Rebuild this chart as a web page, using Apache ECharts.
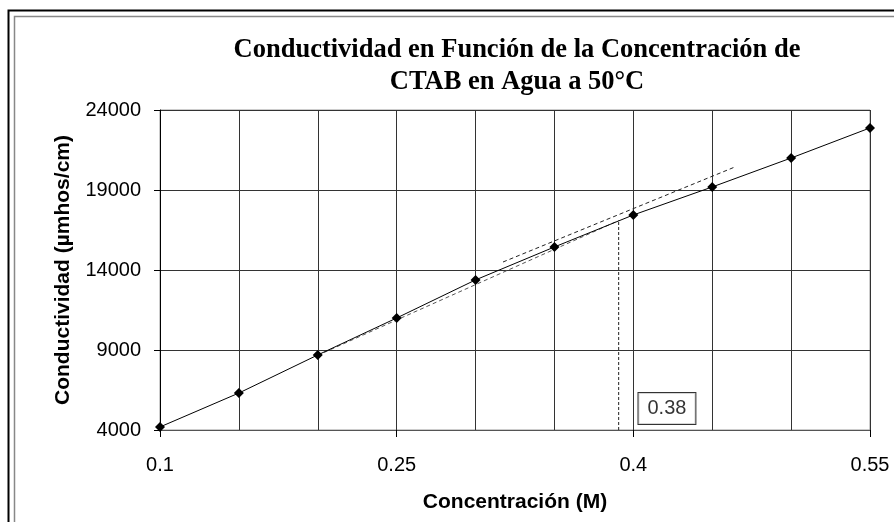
<!DOCTYPE html>
<html>
<head>
<meta charset="utf-8">
<script src="https://cdn.jsdelivr.net/npm/echarts@6/dist/echarts.min.js"></script>
<style>
html,body{margin:0;padding:0;background:#fff;}
#c{width:894px;height:522px;}
</style>
</head>
<body>
<div id="c"></div>
<script>
// Data
var concentration = [0.10, 0.15, 0.20, 0.25, 0.30, 0.35, 0.40, 0.45, 0.50, 0.55];
var conductivity  = [4190, 6310, 8690, 11000, 13380, 15440, 17440, 19190, 21000, 22880];

// Dashed trend lines (endpoints)
var lowerTrendX = [0.20, 0.3907];
var lowerTrendY = [8670, 17090];
var upperTrendX = [0.3174, 0.4644];
var upperTrendY = [14500, 20440];

// Vertical marker of the intersection
var cmcX = [0.3907, 0.3907];
var cmcY = [4000, 17050];
var cmcLabel = '0.38';
var cmcLabelPos = [0.4213, 5344];

var xTicks = [0.1, 0.25, 0.4, 0.55];
var yTicks = [4000, 9000, 14000, 19000, 24000];

function zip(a, b){ return a.map(function(v,i){ return [v, b[i]]; }); }

var chart = echarts.init(document.getElementById('c'), null, {renderer:'canvas'});
chart.setOption({
  animation: false,
  backgroundColor: '#fff',
  title: {
    text: 'Conductividad en Función de la Concentración de\nCTAB en Agua a 50°C',
    left: 512, top: 29, textAlign: 'center',
    textStyle: {fontFamily: 'Liberation Serif', fontWeight: 'bold', fontSize: 26.5, lineHeight: 32, color: '#000'}
  },
  graphic: [
    {type:'rect', shape:{x:8.5, y:10.5, width:900, height:530}, style:{fill:'none', stroke:'#000', lineWidth:2}, silent:true},
    {type:'rect', shape:{x:14.5, y:16.5, width:900, height:530}, style:{fill:'none', stroke:'#888', lineWidth:1.5}, silent:true}
  ],
  grid: {left:160, right:24, top:110, bottom:92, show:true, borderColor:'#999', borderWidth:1},
  xAxis: {
    type:'value', min: xTicks[0], max: xTicks[xTicks.length-1], interval: 0.15,
    name: 'Concentración (M)', nameLocation:'middle', nameGap: 62,
    nameTextStyle: {fontFamily:'Liberation Sans', fontWeight:'bold', fontSize:21, color:'#000'},
    axisLine: {show:true, lineStyle:{color:'#555', width:1}},
    axisTick: {show:true, inside:false, length:7, lineStyle:{color:'#000'}},
    axisLabel: {fontFamily:'Liberation Sans', fontSize:20, color:'#000', margin:25,
      formatter: function(v){ return String(Math.round(v*100)/100); }},
    splitLine: {show:true, lineStyle:{color:'#333', width:1}},
    minorTick: {show:false, splitNumber:3},
    minorSplitLine: {show:true, lineStyle:{color:'#333', width:1}}
  },
  yAxis: {
    type:'value', min: yTicks[0], max: yTicks[yTicks.length-1], interval: 5000,
    name: 'Conductividad (µmhos/cm)', nameLocation:'middle', nameGap: 86, nameRotate: 90,
    nameTextStyle: {fontFamily:'Liberation Sans', fontWeight:'bold', fontSize:21, color:'#000'},
    axisLine: {show:true, lineStyle:{color:'#000', width:1}},
    axisTick: {show:true, inside:false, length:6, lineStyle:{color:'#000'}},
    axisLabel: {fontFamily:'Liberation Sans', fontSize:20, color:'#000', margin:19,
      formatter: function(v){ return String(v); }},
    splitLine: {show:true, lineStyle:{color:'#333', width:1}}
  },
  series: [
    {type:'line', data: zip(lowerTrendX, lowerTrendY), symbol:'none', silent:true,
      lineStyle:{color:'#555', width:1, type:[4,3]}},
    {type:'line', data: zip(upperTrendX, upperTrendY), symbol:'none', silent:true,
      lineStyle:{color:'#222', width:1, type:[4,3]}},
    {type:'line', data: zip(cmcX, cmcY), symbol:'none', silent:true,
      lineStyle:{color:'#222', width:1, type:[3,2]}},
    {type:'line', data: zip(concentration, conductivity), symbol:'diamond', symbolSize:10,
      itemStyle:{color:'#000'}, lineStyle:{color:'#000', width:1}},
    {type:'scatter', data:[cmcLabelPos], symbolSize:0, silent:true,
      label:{show:true, position:'inside', formatter: cmcLabel, fontFamily:'Liberation Sans', fontSize:20, color:'#000',
        backgroundColor:'#fff', borderColor:'#000', borderWidth:1, padding:[6,9,5,9]}}
  ]
});
</script>
</body>
</html>
